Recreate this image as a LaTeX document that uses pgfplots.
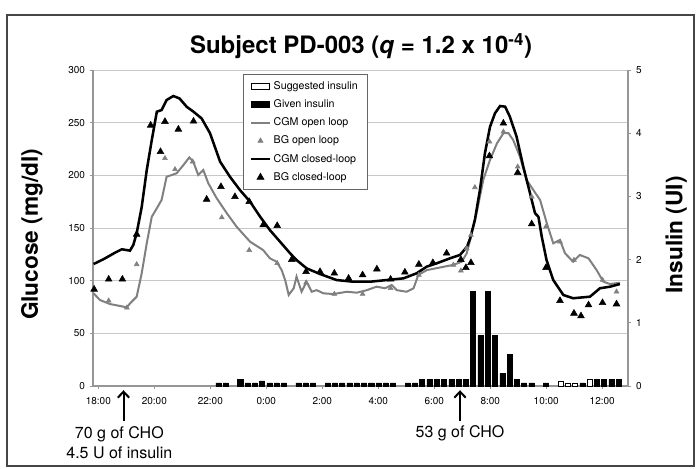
\documentclass[border=0pt]{standalone}
\usepackage{fontspec}
\setmainfont{TeX Gyre Heros}
\usepackage{pgfplots}
\pgfplotsset{compat=1.18}
\usetikzlibrary{arrows.meta}

\definecolor{cgmgray}{RGB}{128,128,128}
\definecolor{gridgray}{RGB}{200,200,200}
\definecolor{axisgray}{RGB}{150,150,150}
\definecolor{framegray}{RGB}{70,70,70}

% time axis: hours after 18:00
\pgfplotsset{
  base/.style={
    scale only axis, width=401.25pt, height=237pt,
    xmin=-0.19, xmax=18.92,
    tick align=outside, major tick length=2.5pt,
    tick style={axisgray, line width=0.6pt},
    tick label style={font=\fontsize{7.5}{8.5}\selectfont},
    /pgf/number format/assume math mode=true,
    axis line style={axisgray, line width=0.8pt},
  },
  linelegend/.style={legend image code/.code={\draw[##1, mark=none] (0pt,0pt) -- (14pt,0pt);}},
  marklegend/.style={legend image code/.code={\draw[##1] plot coordinates {(7pt,0pt)};}},
}

\begin{document}
\begin{tikzpicture}

\begin{axis}[base, name=glu,
  axis x line*=bottom, axis y line*=left,
  ymin=0, ymax=300, ytick={0,50,...,300},
  xtick={0,2,...,18},
  xticklabels={18:00,20:00,22:00,0:00,2:00,4:00,6:00,8:00,10:00,12:00},
  xticklabel style={yshift=-2.5pt},
  ymajorgrids, grid style={gridgray, line width=0.6pt},
  ylabel={Glucose (mg/dl)},
  every axis y label/.style={at={(axis description cs:-0.114,0.48)}, anchor=center, rotate=90,
    font=\bfseries\fontsize{17}{20}\selectfont},
  title={Subject PD-003 (\textit{q} = 1.2 x 10\textsuperscript{-4})},
  every axis title/.style={at={(axis description cs:0.501,1.076)}, anchor=center,
    font=\bfseries\fontsize{18}{21}\selectfont},
  legend style={at={(axis description cs:0.28,0.987)}, anchor=north west,
    draw=black!60, line width=0.6pt, fill=white,
    font=\fontsize{8}{9.6}\selectfont, inner xsep=5pt, inner ysep=3pt, row sep=2.2pt},
  legend cell align=left,
  clip=false,
]
\addlegendimage{legend image code/.code={\draw[black, fill=white, line width=0.6pt] (0pt,-2.2pt) rectangle (14pt,2.2pt);}}
\addlegendimage{legend image code/.code={\draw[black, fill=black, line width=0.6pt] (0pt,-2.2pt) rectangle (14pt,2.2pt);}}

% CGM open loop
\addplot[cgmgray, line width=1.5pt, linelegend] coordinates {
(-0.17,88) (0.06,81.6) (0.42,77.8) (0.9,75.3) (1.01,74.7) (1.19,80) (1.37,84.8)
(1.55,107) (1.73,135.5) (1.91,160.7) (2.09,168.7) (2.26,176.6) (2.44,198.7)
(2.62,200.3) (2.8,202) (3.04,209.8) (3.25,217) (3.39,213) (3.57,200.3) (3.75,205)
(3.93,192.4) (4.23,178.2) (4.59,164) (4.94,151.2) (5.42,137) (5.89,129) (6.13,121.2)
(6.37,118) (6.55,110) (6.68,100) (6.8,86.4) (6.98,92.8) (7.08,103.8) (7.26,89.5)
(7.44,99) (7.62,89.5) (7.8,91) (8.04,88) (8.4,87.3) (8.88,89.5) (9.23,88.6)
(9.59,91) (9.94,94.3) (10.24,92.8) (10.48,95.9) (10.66,91) (11.01,89.5) (11.26,92.8)
(11.43,105.4) (11.73,110) (12.2,112.5) (12.68,115) (12.98,118) (13.16,126)
(13.28,138.6) (13.51,164) (13.75,195.6) (13.99,214.6) (14.24,230.4) (14.47,240)
(14.65,240) (14.82,233.5) (15.06,217.7) (15.3,195.6) (15.54,186) (15.78,176.6)
(16.02,154.5) (16.25,135.5) (16.49,138.6) (16.67,126) (16.96,118) (17.2,124.4)
(17.51,121.2) (17.8,110) (18.04,99) (18.28,96.8) (18.63,98)
};
% BG open loop
\addplot[only marks, mark=triangle*, mark size=2.1pt, cgmgray, marklegend] coordinates {
(0.37,81) (1.02,74.3) (1.37,115.5) (2.38,216.2) (2.74,205.7) (3.37,213) (4.41,160)
(5.39,129) (6.39,116.5) (7.42,98) (8.43,87.3) (9.44,87.3) (10.44,92.8) (11.45,105.4)
(12.68,115) (12.95,109.5) (13.16,130.7) (13.31,143.4) (13.45,188.6) (13.97,232)
(14.47,241.4) (14.98,208.2) (15.48,179.7) (15.99,151.2) (16.49,137) (16.99,119.6)
(18.01,100.6) (18.51,89.5)
};
% CGM closed loop
\addplot[black, line width=1.9pt, linelegend] coordinates {
(-0.17,115.8) (0.18,120.3) (0.6,126.6) (0.84,129.8) (1.13,128.5) (1.25,133.9)
(1.37,145) (1.55,170) (1.73,205) (1.91,233.5) (2.09,260.4) (2.26,262) (2.44,271.5)
(2.68,275.3) (2.9,273) (3.16,265) (3.4,260.4) (3.69,254) (3.99,240) (4.35,213)
(4.7,198.7) (5.06,186) (5.42,175) (5.78,160.7) (6.13,148) (6.49,137) (6.85,126)
(7.08,119.6) (7.44,111.7) (7.92,106.3) (8.51,100.6) (9.11,99) (9.7,99) (10.3,100.6)
(10.9,102.2) (11.37,107) (11.73,113.3) (12.09,116.5) (12.56,121.2) (12.92,124.4)
(13.17,132.3) (13.28,140) (13.45,157.6) (13.63,186) (13.81,221) (13.99,246)
(14.17,259) (14.35,265.8) (14.53,265.2) (14.7,255.7) (14.94,236.7) (15.18,208.2)
(15.42,183) (15.6,164) (15.72,160.7) (15.84,141.7) (16.01,119.6) (16.25,100.6)
(16.61,86.4) (16.96,83.3) (17.56,84.8) (17.92,92.8) (18.28,94.3) (18.63,96.8)
};
% BG closed loop
\addplot[only marks, mark=triangle*, mark size=2.9pt, black, marklegend] coordinates {
(-0.15,91.8) (0.37,101.3) (0.86,101.3) (1.37,144) (1.87,247.5) (2.22,222.4)
(2.38,251) (2.86,243.7) (3.4,251.3) (3.87,177.2) (4.38,189.2) (4.88,179.7)
(5.39,175) (5.89,152.9) (6.39,152.2) (6.91,120) (7.42,108.5) (7.92,108.5)
(8.43,107) (8.94,102.2) (9.44,105.4) (9.95,111) (10.44,101.3) (10.95,108)
(11.45,115.5) (11.95,117) (12.44,126) (12.95,120) (13.13,112.3) (13.31,117)
(13.97,218.4) (14.47,249.4) (14.98,202.5) (15.48,153.8) (15.99,112.3) (16.49,81)
(16.99,69) (17.24,66.5) (17.51,76.9) (18.01,79) (18.51,77.8)
};
\legend{Suggested insulin, Given insulin, CGM open loop, BG open loop, CGM closed-loop, BG closed-loop}

% meal annotations
\draw[black, line width=1.5pt, -{Straight Barb[length=4.5pt, width=8.5pt]}] (axis cs:0.9,-33) -- (axis cs:0.9,-4);
\draw[black, line width=1.5pt, -{Straight Barb[length=4.5pt, width=8.5pt]}] (axis cs:12.92,-33) -- (axis cs:12.92,-4);
\node[font=\fontsize{12}{14.8}\selectfont, align=center] at (axis cs:0.75,-53.5) {70 g of CHO\\4.5 U of insulin};
\node[font=\fontsize{12}{14.8}\selectfont] at (axis cs:12.92,-44.5) {53 g of CHO};
\end{axis}

\begin{axis}[base, at={(glu.south west)}, anchor=south west,
  axis y line*=right, axis x line=none,
  ymin=0, ymax=5, ytick={0,1,...,5}, xtick=\empty,
  ylabel={Insulin (UI)},
  every axis y label/.style={at={(axis description cs:1.090,0.478)}, anchor=center, rotate=90,
    font=\bfseries\fontsize{17}{20}\selectfont},
]
% given insulin
\addplot[ybar, bar width=0.18, bar shift=0pt, fill=black, draw=black] coordinates {
(4.29,0.05) (4.55,0.05)
(5.07,0.1) (5.33,0.05) (5.59,0.05) (5.85,0.08) (6.11,0.05) (6.37,0.05) (6.63,0.05)
(7.15,0.05) (7.41,0.05) (7.67,0.05)
(8.19,0.05) (8.45,0.05) (8.71,0.05) (8.97,0.05) (9.23,0.05) (9.49,0.05) (9.75,0.05)
(10.01,0.05) (10.27,0.05) (10.53,0.05)
(11.05,0.05) (11.31,0.05)
(11.57,0.1) (11.83,0.1) (12.09,0.1) (12.35,0.1) (12.61,0.1) (12.87,0.1) (13.13,0.1)
(13.39,1.5) (13.65,0.8) (13.91,1.5) (14.17,0.8) (14.43,0.2) (14.69,0.5) (14.95,0.1)
(15.21,0.05) (15.47,0.05) (15.99,0.05)
(17.29,0.05) (17.81,0.1) (18.07,0.1) (18.33,0.1) (18.59,0.1)
};
% suggested insulin
\addplot[ybar, bar width=0.18, bar shift=0pt, fill=white, draw=black, line width=0.5pt] coordinates {
(16.51,0.08) (16.77,0.05) (17.03,0.05) (17.55,0.1)
};
\end{axis}

\draw[framegray, line width=1.1pt] (-64.5pt,-60pt) rectangle (450.75pt,278.25pt);
\pgfresetboundingbox
\path (-69.75pt,-61.5pt) rectangle (452.25pt,289.5pt);
\end{tikzpicture}
\end{document}
